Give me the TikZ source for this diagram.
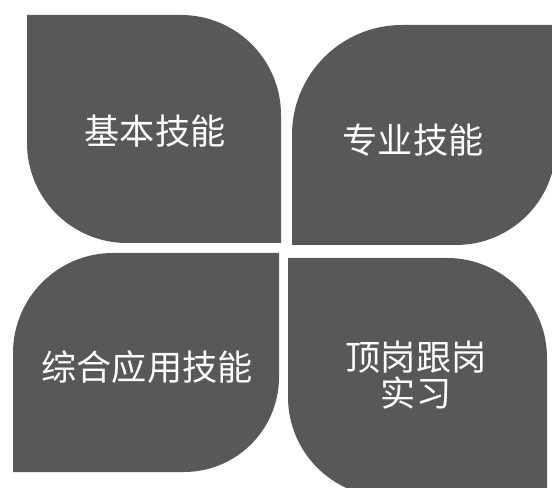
\documentclass[tikz,border=0pt]{standalone}
\usepackage{fontspec}
\usepackage{xcolor}
\newfontfamily\cjk{Noto Sans CJK SC}
\definecolor{leafgray}{RGB}{88,88,88}
\tikzset{
  leaf/.style={fill=leafgray},
  leaftext/.style={text=white, align=center, font=\cjk\fontsize{25}{26}\selectfont}
}

\begin{document}
\begin{tikzpicture}[x=0.025cm, y=0.025cm]

    % Page frame
    \useasboundingbox (0,0) rectangle (552,487);
    \clip (0,0) rectangle (552,487);
    \fill[white] (0,0) rectangle (552,487);

    % Top left leaf (round corners top right and bottom left)
    \fill[leaf] (27,472) -- (181,472) arc[start angle=90, end angle=0, radius=100]
        -- (281,244) -- (127,244) arc[start angle=270, end angle=180, radius=100] -- cycle;

    % Top right leaf (round corners top left and bottom right)
    \fill[leaf] (292,242) -- (292,352) arc[start angle=180, end angle=90, radius=110]
        -- (556,462) -- (556,342) arc[start angle=0, end angle=-90, radius=100] -- cycle;

    % Bottom left leaf (round corners top left and bottom right)
    \fill[leaf] (13,15) -- (13,134) arc[start angle=180, end angle=90, radius=100]
        -- (279,234) -- (279,110) arc[start angle=0, end angle=-90, radius=95] -- cycle;

    % Bottom right leaf, runs past the lower edge
    \fill[leaf] (288,229) -- (447,229) arc[start angle=90, end angle=0, radius=100]
        -- (547,-10) -- (388,-10) arc[start angle=270, end angle=180, radius=100] -- cycle;

    % Labels
    \node[leaftext] (jiben) at (155,356) {基本技能};
    \node[leaftext] (zhuanye) at (413,347) {专业技能};
    \node[leaftext] (zonghe) at (147,120) {综合应用技能};
    \node[leaftext] (dinggang) at (416,112) {顶岗跟岗\\实习};

\end{tikzpicture}
\end{document}
